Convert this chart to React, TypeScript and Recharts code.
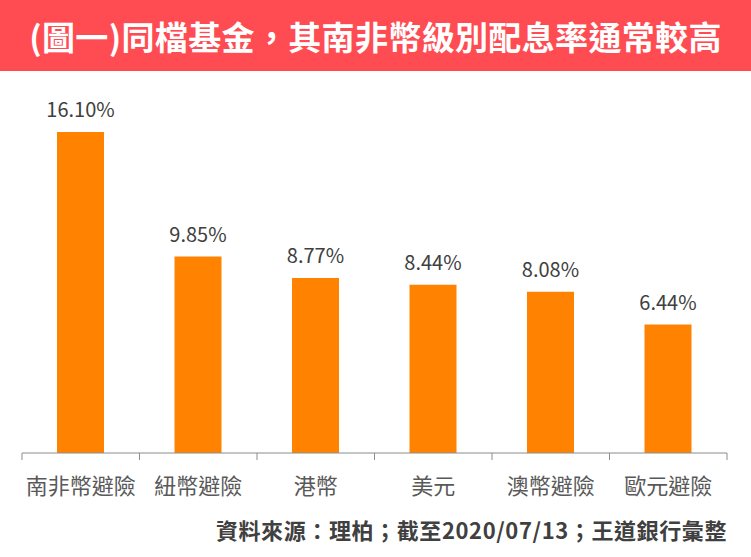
import React from "react";
import { BarChart, Bar, XAxis, YAxis, LabelList } from "recharts";

const categories = ["南非幣避險", "紐幣避險", "港幣", "美元", "澳幣避險", "歐元避險"];
const rates = [16.1, 9.85, 8.77, 8.44, 8.08, 6.44];
const titleText = "(圖一)同檔基金，其南非幣級別配息率通常較高";
const sourceText = "資料來源：理柏；截至2020/07/13；王道銀行彙整";

const data = categories.map((name, i) => ({ name, value: rates[i] }));

const FONT = "'Noto Sans CJK TC', 'Noto Sans', sans-serif";

const CategoryTick = (props: any) => {
  const { x, y, payload, index, width, visibleTicksCount } = props;
  const band = width / visibleTicksCount;
  const last = index === visibleTicksCount - 1;
  return (
    <g>
      <line x1={x - band / 2} x2={x - band / 2} y1={y} y2={y + 7} stroke="#8c8c8c" strokeWidth={1} />
      {last && (
        <line x1={x + band / 2} x2={x + band / 2} y1={y} y2={y + 7} stroke="#8c8c8c" strokeWidth={1} />
      )}
      <text x={x} y={y + 41} textAnchor="middle" fill="#595959" fontSize={22} fontFamily={FONT}>
        {payload.value}
      </text>
    </g>
  );
};

export default function App() {
  return (
    <div
      style={{
        position: "absolute",
        left: 0,
        top: 0,
        width: 751,
        height: 557,
        background: "#ffffff",
        overflow: "hidden",
        fontFamily: FONT,
      }}
    >
      <div
        style={{
          position: "absolute",
          left: 0,
          top: 0,
          width: 751,
          height: 71,
          background: "#ff4b52",
          color: "#ffffff",
          fontSize: 33,
          fontWeight: 700,
          letterSpacing: 0.35,
          lineHeight: "72px",
          textAlign: "center",
          whiteSpace: "nowrap",
        }}
      >
        {titleText}
      </div>
      <div style={{ position: "absolute", left: 0, top: 0 }}>
        <BarChart
          width={751}
          height={557}
          data={data}
          margin={{ top: 94, right: 24, bottom: 74, left: 22 }}
        >
          <YAxis hide domain={[0, 18]} />
          <XAxis
            dataKey="name"
            height={30}
            axisLine={{ stroke: "#8c8c8c", strokeWidth: 1 }}
            tickLine={false}
            tickSize={0}
            tickMargin={0}
            interval={0}
            tick={<CategoryTick />}
          />
          <Bar dataKey="value" fill="#ff8300" barSize={47} isAnimationActive={false}>
            <LabelList
              dataKey="value"
              position="top"
              offset={15}
              fill="#404040"
              fontSize={20}
              fontFamily={FONT}
              formatter={(v: any) => `${Number(v).toFixed(2)}%`}
            />
          </Bar>
        </BarChart>
      </div>
      <div
        style={{
          position: "absolute",
          right: 24,
          top: 514,
          lineHeight: "30px",
          fontSize: 22,
          fontWeight: 700,
          letterSpacing: 0.6,
          color: "#404040",
          whiteSpace: "nowrap",
        }}
      >
        {sourceText}
      </div>
    </div>
  );
}
